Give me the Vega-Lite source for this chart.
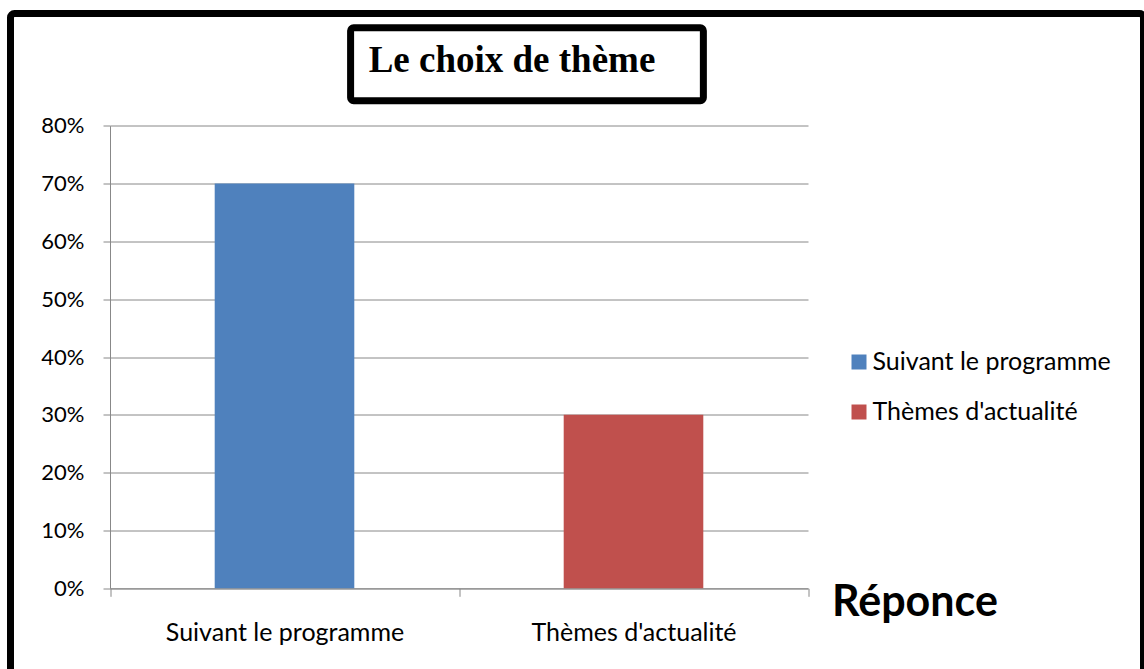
{
  "$schema": "https://vega.github.io/schema/vega-lite/v6.json",
  "autosize": {"type": "none"},
  "padding": {"left": 10.5, "top": 13.5, "right": 0, "bottom": -54.5},
  "width": 1133,
  "height": 710,
  "background": "white",
  "config": {
    "view": {"stroke": "black", "strokeWidth": 7, "cornerRadius": 4, "fill": "white"},
    "axis": {"labelFont": "Lato", "labelColor": "#000000", "labelLimit": 0},
    "legend": {"labelLimit": 0}
  },
  "data": {"values": [
    {"reponse": "Suivant le programme", "pourcentage": 0.70},
    {"reponse": "Thèmes d'actualité", "pourcentage": 0.30}
  ]},
  "resolve": {"scale": {"x": "independent"}},
  "layer": [
    {
      "mark": {"type": "bar", "width": {"band": 0.4}},
      "encoding": {
        "x": {
          "field": "reponse", "type": "nominal", "sort": null,
          "scale": {"range": [99.5, 797.5], "paddingInner": 0, "paddingOuter": 0},
          "axis": {
            "title": "Réponce", "titleFont": "Lato", "titleFontWeight": "bold", "titleFontSize": 43,
            "titleColor": "#000000", "titleX": 821, "titleY": 26.7, "titleAlign": "left", "titleBaseline": "alphabetic",
            "offset": -135.2, "tickBand": "extent", "tickSize": 8, "tickColor": "#888888", "domainColor": "#888888",
            "labelAngle": 0, "labelFontSize": 25, "labelPadding": 24, "labelColor": "#000000", "labelLimit": 0, "grid": false
          }
        },
        "y": {
          "field": "pourcentage", "type": "quantitative",
          "scale": {"domain": [0, 0.8], "range": [574.8, 112.2], "nice": false, "zero": true},
          "axis": {
            "format": ".0%", "values": [0, 0.1, 0.2, 0.3, 0.4, 0.5, 0.6, 0.7, 0.8], "title": null,
            "offset": -99.5, "tickSize": 7, "tickColor": "#888888", "domainColor": "#888888",
            "grid": true, "gridColor": "#888888", "gridWidth": 1,
            "labelFontSize": 22, "labelPadding": 19, "labelFont": "Lato", "labelColor": "#000000"
          }
        },
        "color": {
          "field": "reponse", "type": "nominal", "sort": null,
          "scale": {"domain": ["Suivant le programme", "Thèmes d'actualité"], "range": ["#4F81BD", "#C0504D"]},
          "legend": {
            "title": null, "orient": "none", "legendX": 836, "legendY": 336,
            "symbolType": "square", "symbolSize": 225, "symbolStrokeWidth": 0,
            "labelFont": "Lato", "labelFontSize": 25, "labelColor": "#000000", "labelLimit": 0,
            "rowPadding": 24, "labelOffset": 1
          }
        }
      }
    },
    {
      "data": {"values": [{"titre": "Le choix de thème"}]},
      "mark": {"type": "rect", "fill": "white", "stroke": "black", "strokeWidth": 7, "cornerRadius": 3},
      "encoding": {
        "x": {"datum": 0.3447, "type": "quantitative", "scale": {"domain": [0, 1], "range": [99.5, 797.5]}, "axis": null},
        "x2": {"datum": 0.8501},
        "y": {"datum": 0.9692, "type": "quantitative"},
        "y2": {"datum": 0.8431}
      }
    },
    {
      "data": {"values": [{"titre": "Le choix de thème"}]},
      "mark": {"type": "text", "font": "Liberation Serif", "fontWeight": "bold", "fontSize": 37, "baseline": "alphabetic", "align": "center", "color": "black"},
      "encoding": {
        "x": {"datum": 0.5759, "type": "quantitative", "scale": {"domain": [0, 1], "range": [99.5, 797.5]}, "axis": null},
        "y": {"datum": 0.8923, "type": "quantitative"},
        "text": {"field": "titre", "type": "nominal"}
      }
    }
  ]
}
